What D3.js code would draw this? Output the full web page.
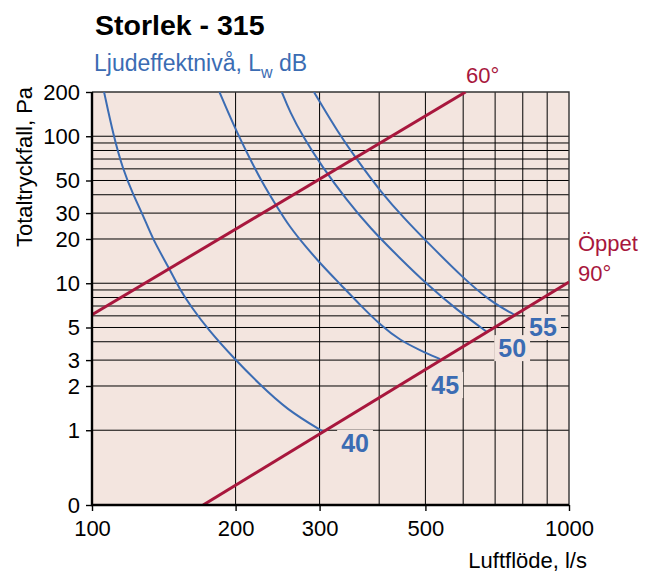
<!DOCTYPE HTML>
<html>
<head>
  <title>Storlek - 315</title>
  <script src="https://d3js.org/d3.v7.min.js"></script>
  <style type="text/css">
    body { margin: 0; background: #fff; }
    svg { font-family: "Liberation Sans", Arial, Helvetica, sans-serif; }
    .axis path { display: none; }
    .axis line { stroke: #000; stroke-width: 1.4; }
    .axis text { font-size: 22px; fill: #000; }
    .grid line { stroke: #000; stroke-width: 1; }
    .curve { fill: none; stroke: #3b6cb3; stroke-width: 2; }
    .damper { fill: none; stroke: #a8173d; stroke-width: 3; }
  </style>
</head>
<body>
  <svg width="651" height="574"></svg>
  <script type="text/javascript">
    // luftflöde l/s (x) and totaltryckfall Pa (y), log-log
    var qMin = 100, qMax = 1000,
      pMin = 0.31, pMax = 200;

    var xTicks = [100, 200, 300, 500, 1000];
    var yTicks = [pMin, 1, 2, 3, 5, 10, 20, 30, 50, 100, 200],
      yTickLabels = ["0", "1", "2", "3", "5", "10", "20", "30", "50", "100", "200"];
    var xGrid = [200, 300, 400, 500, 600, 700, 800, 900],
      yGrid = [1, 2, 3, 4, 5, 6, 7, 8, 9, 10, 20, 30, 40, 50, 60, 70, 80, 90, 100];

    // damper lines, [q, p]
    var line60 = [[100, 6.1], [607, 200]];
    var lineOpen = [[171, 0.31], [1000, 10.2]];

    // sound power level curves, [q, p]
    var lw40 = [[106, 200], [111, 100], [116, 60], [122, 40], [128, 29], [134, 20], [145, 12.7],
      [153, 9], [161, 7], [175, 4.85], [200, 3.0], [223, 2.1], [256, 1.38], [305, 0.98]];
    var lw45 = [[185, 200], [199, 115], [214, 71], [227, 49], [243, 34], [260, 24], [280, 17.9],
      [303, 13.3], [331, 9.9], [365, 7.1], [405, 5.1], [442, 4.1], [487, 3.5], [537, 3.05]];
    var lw50 = [[250, 200], [260, 146], [277, 99], [303, 62.7], [342, 36.8], [383, 23.7],
      [442, 14.8], [506, 9.7], [582, 6.6], [673, 4.66]];
    var lw55 = [[292, 200], [303, 163], [326, 110], [356, 72], [405, 41], [453, 27.3],
      [504, 19.1], [600, 10.85], [683, 7.56], [770, 6.08]];

    var levels = ["40", "45", "50", "55"],
      curves = [lw40, lw45, lw50, lw55],
      labelPos = [[356, 0.82], [550, 2.03], [760, 3.62], [882, 5.04]];

    var bg = "#f3e5df", blue = "#3b6cb3", red = "#a8173d";

    var svg = d3.select("svg");

    var x = d3.scaleLog().domain([qMin, qMax]).range([92, 569]);
    var y = d3.scaleLog().domain([pMin, pMax]).range([505, 92]);

    svg.append("rect")
      .attr("x", x(qMin)).attr("y", y(pMax))
      .attr("width", x(qMax) - x(qMin)).attr("height", y(pMin) - y(pMax))
      .attr("fill", bg);

    var grid = svg.append("g").attr("class", "grid");
    grid.selectAll(".gx").data(xGrid).enter().append("line")
      .attr("x1", function(d) { return x(d); })
      .attr("x2", function(d) { return x(d); })
      .attr("y1", y(pMin)).attr("y2", y(pMax));
    grid.selectAll(".gy").data(yGrid).enter().append("line")
      .attr("y1", function(d) { return y(d); })
      .attr("y2", function(d) { return y(d); })
      .attr("x1", x(qMin)).attr("x2", x(qMax));

    // frame: thin top/right, heavy left/bottom
    svg.append("path")
      .attr("d", "M" + x(qMin) + "," + y(pMax) + "H" + x(qMax) + "V" + y(pMin))
      .attr("fill", "none").attr("stroke", "#333").attr("stroke-width", 1.4);

    svg.append("clipPath").attr("id", "plot").append("rect")
      .attr("x", x(qMin)).attr("y", y(pMax))
      .attr("width", x(qMax) - x(qMin)).attr("height", y(pMin) - y(pMax));

    // level labels sit in boxes that blank the grid
    var labels = svg.append("g");
    levels.forEach(function(lv, i) {
      var t = labels.append("text")
        .attr("x", x(labelPos[i][0])).attr("y", y(labelPos[i][1]))
        .attr("text-anchor", "middle").attr("dy", "0.36em")
        .attr("font-size", 25).attr("font-weight", "bold")
        .attr("fill", blue).text(lv);
      var b = t.node().getBBox();
      labels.insert("rect", "text")
        .attr("x", b.x - 4).attr("y", b.y + 1)
        .attr("width", b.width + 8).attr("height", b.height - 2)
        .attr("fill", bg);
    });

    var line = d3.line()
      .x(function(d) { return x(d[0]); })
      .y(function(d) { return y(d[1]); });

    var plot = svg.append("g").attr("clip-path", "url(#plot)");

    plot.selectAll(".curve").data(curves).enter().append("path")
      .attr("class", "curve")
      .attr("d", line.curve(d3.curveBasis));

    line.curve(d3.curveLinear);
    plot.selectAll(".damper").data([line60, lineOpen]).enter().append("path")
      .attr("class", "damper")
      .attr("d", line);

    var xAxis = svg.append("g").attr("class", "axis")
      .attr("transform", "translate(0," + y(pMin) + ")")
      .call(d3.axisBottom(x).tickValues(xTicks).tickFormat(d3.format("d"))
        .tickSize(6).tickPadding(9));

    var yAxis = svg.append("g").attr("class", "axis")
      .attr("transform", "translate(" + x(qMin) + ",0)")
      .call(d3.axisLeft(y).tickValues(yTicks)
        .tickFormat(function(d, i) { return yTickLabels[i]; })
        .tickSize(6).tickPadding(6));

    svg.append("path")
      .attr("d", "M" + x(qMin) + "," + y(pMax) + "V" + y(pMin) + "H" + x(qMax))
      .attr("fill", "none").attr("stroke", "#000").attr("stroke-width", 2.4);

    // texts
    svg.append("text").attr("x", 95).attr("y", 35)
      .attr("font-size", 28.5).attr("font-weight", "bold").text("Storlek - 315");

    var sub = svg.append("text").attr("x", 94).attr("y", 71)
      .attr("font-size", 23).attr("fill", blue);
    sub.append("tspan").text("Ljudeffektnivå, L");
    sub.append("tspan").attr("font-size", 16).attr("dy", 7).text("w");
    sub.append("tspan").attr("dy", -7).text(" dB");

    svg.append("text")
      .attr("transform", "translate(32,167) rotate(-90)")
      .attr("text-anchor", "middle").attr("font-size", 22)
      .text("Totaltryckfall, Pa");

    svg.append("text").attr("x", 587).attr("y", 568)
      .attr("text-anchor", "end").attr("font-size", 22)
      .text("Luftflöde, l/s");

    svg.append("text").attr("x", 466).attr("y", 83)
      .attr("font-size", 22).attr("fill", red).text("60°");
    svg.append("text").attr("x", 578).attr("y", 251)
      .attr("font-size", 22).attr("fill", red).text("Öppet");
    svg.append("text").attr("x", 578).attr("y", 281)
      .attr("font-size", 22).attr("fill", red).text("90°");
  </script>
</body>
</html>
